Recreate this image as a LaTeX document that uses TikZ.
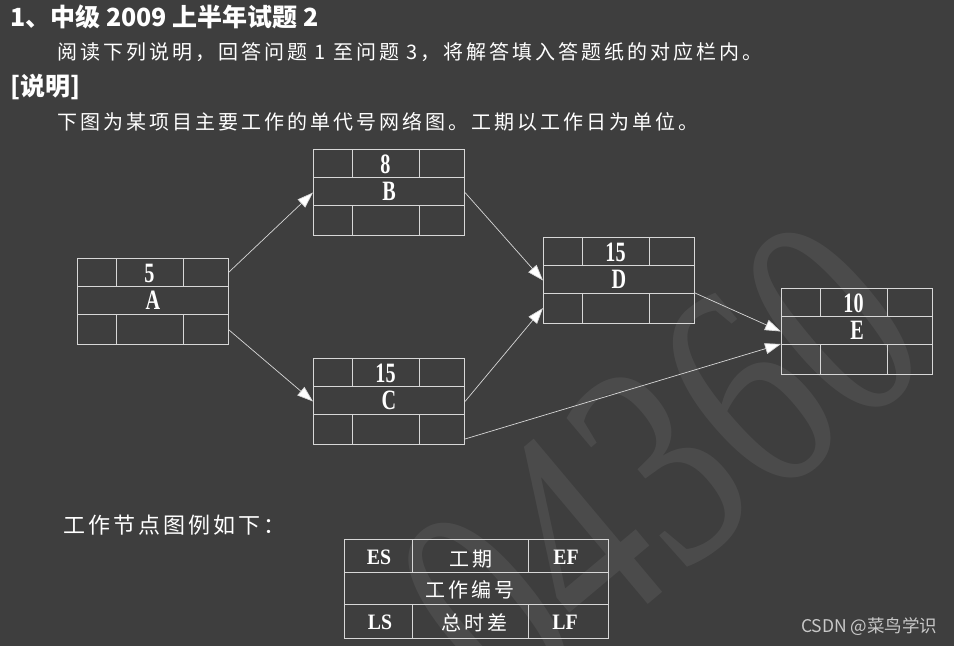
\documentclass[tikz,border=0pt]{standalone}
\usepackage{fontspec}
\setmainfont{Noto Sans CJK SC}
\newfontfamily\cjk{Noto Sans CJK SC}
\newfontfamily\cjksp[LetterSpace=15]{Noto Sans CJK SC}
\newfontfamily\cjkspb[LetterSpace=14]{Noto Sans CJK SC}
\newfontfamily\nodefont[FakeStretch=0.72]{Liberation Serif}
\newfontfamily\legfont[FakeStretch=0.9]{Liberation Serif}
\newfontfamily\wmfont{Liberation Serif}
\usetikzlibrary{arrows.meta,calc}
\definecolor{bgc}{RGB}{62,62,62}
\definecolor{linec}{RGB}{215,215,215}
\definecolor{csdnc}{RGB}{200,200,200}
\tikzset{
  box/.style={draw=linec, line width=1pt, minimum width=151pt, minimum height=86pt, inner sep=0pt, anchor=north west},
  grid/.style={draw=linec, line width=1pt},
  arr/.style={draw=linec, line width=0.7pt, -{Triangle[length=16pt,width=11pt,fill=white]}},
  numlab/.style={text=white, inner sep=0pt, font=\nodefont\bfseries\fontsize{28}{28}\selectfont},
  legsym/.style={text=white, inner sep=0pt, font=\legfont\bfseries\fontsize{22}{22}\selectfont},
  legcjk/.style={text=white, inner sep=0pt, font=\cjksp\fontsize{20}{20}\selectfont},
  body/.style={text=white, inner sep=0pt, anchor=west, font=\cjksp\fontsize{20}{20}\selectfont},
  head/.style={text=white, inner sep=0pt, anchor=west, font=\cjk\bfseries\fontsize{25}{25}\selectfont},
}
\newcommand{\netnode}[5]{%
  \node[box] (#1) at (#2,#3) {};
  \draw[grid] ([yshift=-28pt]#1.north west) -- ([yshift=-28pt]#1.north east);
  \draw[grid] ([yshift=-56pt]#1.north west) -- ([yshift=-56pt]#1.north east);
  \draw[grid] ([xshift=39pt]#1.north west) -- ([xshift=39pt,yshift=-28pt]#1.north west);
  \draw[grid] ([xshift=106pt]#1.north west) -- ([xshift=106pt,yshift=-28pt]#1.north west);
  \draw[grid] ([xshift=39pt,yshift=-56pt]#1.north west) -- ([xshift=39pt]#1.south west);
  \draw[grid] ([xshift=106pt,yshift=-56pt]#1.north west) -- ([xshift=106pt]#1.south west);
  \node[numlab] (#1-dur) at ([xshift=72.5pt,yshift=-15pt]#1.north west) {#4};
  \node[numlab] (#1-id) at ([yshift=-42pt]#1.north) {#5};
}
\begin{document}
\begin{tikzpicture}[x=1pt,y=-1pt]
\fill[bgc] (0,0) rectangle (954,646);
\useasboundingbox (0,0) rectangle (954,646);
% watermark
\node[rotate=40, text=white, text opacity=0.07, inner sep=0pt, font=\wmfont\fontsize{225}{225}\selectfont] (wm) at (660,465) {\scalebox{1}[1.35]{04360}};
% texts
\node[head] (t1) at (10,17) {1、中级 2009 上半年试题 2};
\node[body] (t2) at (57,52) {阅读下列说明，回答问题 1 至问题 3，将解答填入答题纸的对应栏内。};
\node[head] (t3) at (10,87) {[说明]};
\node[body] (t4) at (57,122) {下图为某项目主要工作的单代号网络图。工期以工作日为单位。};
\node[body, font=\cjkspb\fontsize{22}{22}\selectfont] (t5) at (63,525) {工作节点图例如下：};
\node[text=csdnc, inner sep=0pt, anchor=west, font=\cjk\fontsize{17.5}{17.5}\selectfont] (csdn) at (801,627) {CSDN @菜鸟学识};
% network nodes
\netnode{A}{77}{258}{5}{A}
\netnode{B}{313}{149}{8}{B}
\netnode{C}{313}{358}{15}{C}
\netnode{D}{543}{237}{15}{D}
\netnode{E}{781}{288}{10}{E}
% connectors
\draw[arr] ([yshift=-14pt]A.north east) -- (B.west);
\draw[arr] ([yshift=15pt]A.south east) -- (C.west);
\draw[arr] (B.east) -- (D.west);
\draw[arr] (C.east) -- ([yshift=16pt]D.south west);
\draw[arr] ([yshift=31pt]D.south east) -- (E.west);
\draw[arr] ([yshift=6pt]C.south east) -- ([yshift=31pt]E.south west);
% legend
\node[draw=linec, line width=1pt, minimum width=264pt, minimum height=99pt, inner sep=0pt, anchor=north west] (L) at (344,539) {};
\draw[grid] ([yshift=-33pt]L.north west) -- ([yshift=-33pt]L.north east);
\draw[grid] ([yshift=-65pt]L.north west) -- ([yshift=-65pt]L.north east);
\draw[grid] ([xshift=68pt]L.north west) -- ([xshift=68pt,yshift=-33pt]L.north west);
\draw[grid] ([xshift=184pt]L.north west) -- ([xshift=184pt,yshift=-33pt]L.north west);
\draw[grid] ([xshift=68pt,yshift=-65pt]L.north west) -- ([xshift=68pt]L.south west);
\draw[grid] ([xshift=184pt,yshift=-65pt]L.north west) -- ([xshift=184pt]L.south west);
\node[legsym] (es) at (379,557) {ES};
\node[legcjk] (gq) at (471,559) {工期};
\node[legsym] (ef) at (566,557) {EF};
\node[legcjk] (bh) at (470,590) {工作编号};
\node[legsym] (ls) at (380,622) {LS};
\node[legcjk] (zsc) at (474,623) {总时差};
\node[legsym] (lf) at (565,622) {LF};
\end{tikzpicture}
\end{document}
